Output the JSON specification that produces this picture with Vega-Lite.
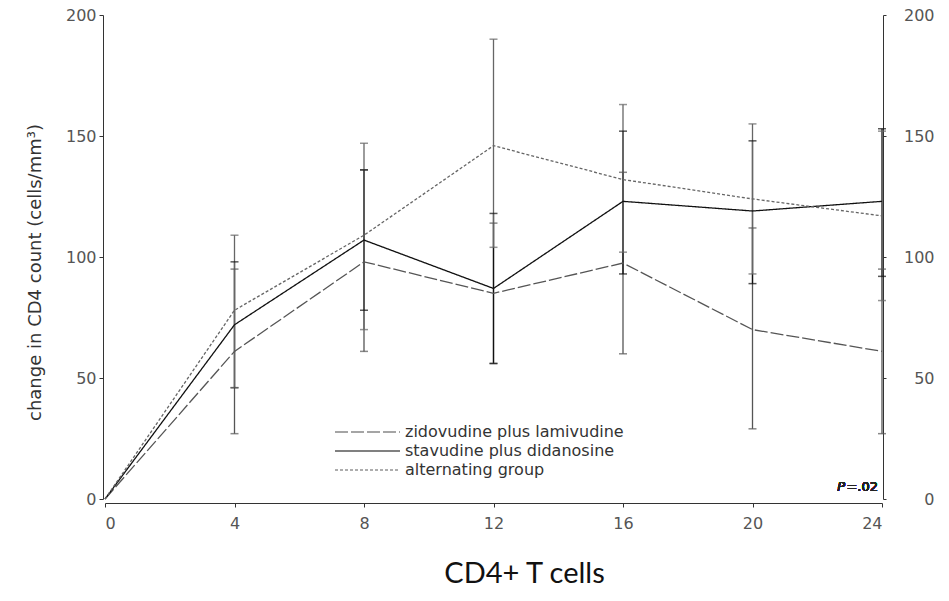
{
  "$schema": "https://vega.github.io/schema/vega-lite/v6.json",
  "width": 777,
  "height": 484,
  "autosize": "none",
  "padding": {"left": 105, "top": 15, "right": 67, "bottom": 102},
  "background": "white",
  "config": {
    "view": {"stroke": null},
    "font": "DejaVu Sans",
    "axis": {"grid": false, "domainColor": "#333", "tickColor": "#333", "labelColor": "#555", "labelFont": "DejaVu Sans", "labelFontSize": 15, "titleFont": "DejaVu Sans", "titleFontWeight": "normal", "titleColor": "#333"}
  },
  "title": {"text": "CD4+ T cells", "orient": "bottom", "anchor": "middle", "offset": 29, "dx": 31, "font": "Lato", "fontSize": 29, "fontWeight": "normal", "color": "#111"},
  "data": {"values": [
    {"week": 0, "group": "zidovudine plus lamivudine", "mean": 0, "lo": null, "hi": null},
    {"week": 4, "group": "zidovudine plus lamivudine", "mean": 61, "lo": 27, "hi": 95},
    {"week": 8, "group": "zidovudine plus lamivudine", "mean": 98, "lo": 61, "hi": 136},
    {"week": 12, "group": "zidovudine plus lamivudine", "mean": 85, "lo": 56, "hi": 114},
    {"week": 16, "group": "zidovudine plus lamivudine", "mean": 97.5, "lo": 60, "hi": 135},
    {"week": 20, "group": "zidovudine plus lamivudine", "mean": 70, "lo": 29, "hi": 112},
    {"week": 24, "group": "zidovudine plus lamivudine", "mean": 61, "lo": 27, "hi": 95},
    {"week": 0, "group": "stavudine plus didanosine", "mean": 0, "lo": null, "hi": null},
    {"week": 4, "group": "stavudine plus didanosine", "mean": 72, "lo": 46, "hi": 98},
    {"week": 8, "group": "stavudine plus didanosine", "mean": 107, "lo": 78, "hi": 136},
    {"week": 12, "group": "stavudine plus didanosine", "mean": 87, "lo": 56, "hi": 118},
    {"week": 16, "group": "stavudine plus didanosine", "mean": 123, "lo": 93, "hi": 152},
    {"week": 20, "group": "stavudine plus didanosine", "mean": 119, "lo": 89, "hi": 148},
    {"week": 24, "group": "stavudine plus didanosine", "mean": 123, "lo": 92, "hi": 153},
    {"week": 0, "group": "alternating group", "mean": 0, "lo": null, "hi": null},
    {"week": 4, "group": "alternating group", "mean": 78, "lo": 46, "hi": 109},
    {"week": 8, "group": "alternating group", "mean": 109, "lo": 70, "hi": 147},
    {"week": 12, "group": "alternating group", "mean": 146, "lo": 104, "hi": 190},
    {"week": 16, "group": "alternating group", "mean": 132, "lo": 102, "hi": 163},
    {"week": 20, "group": "alternating group", "mean": 124, "lo": 93, "hi": 155},
    {"week": 24, "group": "alternating group", "mean": 117, "lo": 82, "hi": 152}
  ]},
  "resolve": {"axis": {"y": "independent"}},
  "layer": [
    {
      "transform": [{"filter": "datum.lo != null"}],
      "mark": {"type": "rule", "strokeWidth": 1.3},
      "encoding": {
        "x": {"field": "week", "type": "quantitative", "scale": {"domain": [0, 24], "nice": false, "zero": false},
              "axis": {"values": [0, 4, 8, 12, 16, 20, 24], "title": null, "offset": 4, "tickSize": 4, "labelPadding": 8, "labelFontSize": 16}},
        "y": {"field": "lo", "type": "quantitative", "scale": {"domain": [0, 200], "nice": false},
              "axis": {"orient": "left", "values": [0, 50, 100, 150, 200], "title": "change in CD4 count (cells/mm³)", "titleFontSize": 18, "titleX": -68, "titleY": 257, "titleAngle": -90, "titleAlign": "center", "titleBaseline": "middle", "offset": 2, "tickSize": 4, "labelPadding": 3, "labelFontSize": 16}},
        "y2": {"field": "hi"},
        "color": {"field": "group", "type": "nominal",
                  "scale": {"domain": ["zidovudine plus lamivudine", "stavudine plus didanosine", "alternating group"], "range": ["#555", "#111", "#666"]},
                  "legend": {"title": null, "orient": "none", "legendX": 222, "legendY": 409, "padding": 0, "symbolType": "M0,0H13", "symbolSize": 100, "symbolStrokeWidth": 1.3, "labelFontSize": 16, "labelColor": "#333", "labelOffset": 62, "labelLimit": 400, "rowPadding": 3}}
      }
    },
    {
      "transform": [{"filter": "datum.lo != null"}],
      "mark": {"type": "tick", "orient": "horizontal", "size": 8, "thickness": 1.5},
      "encoding": {
        "x": {"field": "week", "type": "quantitative"},
        "y": {"field": "lo", "type": "quantitative", "axis": null},
        "color": {"field": "group", "type": "nominal"}
      }
    },
    {
      "transform": [{"filter": "datum.hi != null"}],
      "mark": {"type": "tick", "orient": "horizontal", "size": 8, "thickness": 1.5},
      "encoding": {
        "x": {"field": "week", "type": "quantitative"},
        "y": {"field": "hi", "type": "quantitative", "axis": null},
        "color": {"field": "group", "type": "nominal"}
      }
    },
    {
      "mark": {"type": "line", "strokeWidth": 1.3},
      "encoding": {
        "x": {"field": "week", "type": "quantitative"},
        "y": {"field": "mean", "type": "quantitative",
              "axis": {"orient": "right", "values": [0, 50, 100, 150, 200], "title": null, "offset": 1, "tickSize": 3, "labelPadding": 48, "labelAlign": "right", "labelFontSize": 16}},
        "color": {"field": "group", "type": "nominal"},
        "strokeDash": {"field": "group", "type": "nominal",
                       "scale": {"domain": ["zidovudine plus lamivudine", "stavudine plus didanosine", "alternating group"], "range": [[13, 3], [1, 0], [3, 2]]},
                       "legend": {"title": null, "orient": "none", "legendX": 222, "legendY": 409, "padding": 0, "symbolType": "M0,0H13", "symbolSize": 100, "symbolStrokeWidth": 1.3, "labelFontSize": 16, "labelColor": "#333", "labelOffset": 62, "labelLimit": 400, "rowPadding": 3}}
      }
    },
    {
      "mark": {"type": "text", "text": "=.02", "align": "right", "baseline": "middle", "dx": -4, "fontSize": 13, "color": "#222"},
      "encoding": {
        "x": {"datum": 24, "type": "quantitative"},
        "y": {"datum": 5, "type": "quantitative", "axis": null}
      }
    },
    {
      "mark": {"type": "text", "text": "P", "align": "right", "baseline": "middle", "dx": -37, "fontSize": 13, "fontStyle": "italic", "color": "#222"},
      "encoding": {
        "x": {"datum": 24, "type": "quantitative"},
        "y": {"datum": 5, "type": "quantitative", "axis": null}
      }
    }
  ]
}
